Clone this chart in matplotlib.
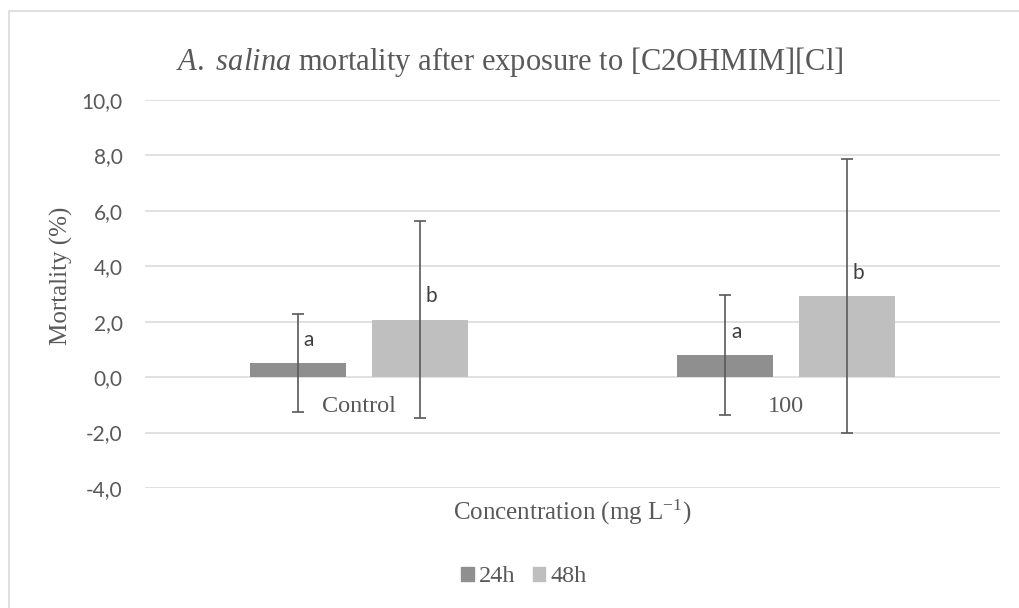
import matplotlib.pyplot as plt
import numpy as np
from matplotlib.patches import Patch, Rectangle

# Dados
categorias = ['Control', '100']
media_24h = [0.50, 0.79]
media_48h = [2.07, 2.92]
dp_24h = [1.77, 2.17]
dp_48h = [3.55, 4.95]
letras_24h = ['a', 'a']
letras_48h = ['b', 'b']
series = ['24h', '48h']
y_ticks = [-4, -2, 0, 2, 4, 6, 8, 10]
y_labels = ['-4,0', '-2,0', '0,0', '2,0', '4,0', '6,0', '8,0', '10,0']

cor_24h = '#8f8f8f'
cor_48h = '#bfbfbf'
cinza = '#595959'

plt.rcParams['mathtext.fontset'] = 'custom'
plt.rcParams['mathtext.rm'] = 'Liberation Serif'
plt.rcParams['mathtext.it'] = 'Liberation Serif:italic'

fig = plt.figure(figsize=(10.2, 6.08), dpi=100)
ax = fig.add_axes([145 / 1020, 1 - 488 / 608, 855 / 1020, 388 / 608])

x = np.arange(len(categorias))
largura = 0.225
desloc = 0.1425

ax.bar(x - desloc, media_24h, largura, color=cor_24h, zorder=2)
ax.bar(x + desloc, media_48h, largura, color=cor_48h, zorder=2)
ax.errorbar(x - desloc, media_24h, yerr=dp_24h, fmt='none', ecolor=cinza,
            elinewidth=1.2, capsize=4.5, capthick=1.2, zorder=3)
ax.errorbar(x + desloc, media_48h, yerr=dp_48h, fmt='none', ecolor=cinza,
            elinewidth=1.2, capsize=4.5, capthick=1.2, zorder=3)

# letras de significância
for xs, ms, ls in [(x - desloc, media_24h, letras_24h), (x + desloc, media_48h, letras_48h)]:
    for xi, mi, li in zip(xs, ms, ls):
        ax.annotate(li, (xi, mi), xytext=(4.0, 17), textcoords='offset points',
                    ha='left', va='center', fontsize=15, family='Lato', color='#404040')

# rótulos das categorias junto ao eixo zero
for xi, cat in zip(x, categorias):
    ax.annotate(cat, (xi, 0), xytext=(0, -21), textcoords='offset points',
                ha='center', va='center', fontsize=17.5, family='Liberation Serif', color=cinza)

ax.set_xlim(-0.5, 1.5)
ax.set_ylim(-4, 10)
ax.set_yticks(y_ticks)
ax.set_yticklabels(y_labels, fontsize=15, family='Lato', color=cinza)
ax.set_xticks([])
ax.tick_params(axis='y', length=0, pad=16)
ax.grid(axis='y', color='#d9d9d9', linewidth=1.1, zorder=0)
ax.set_axisbelow(True)
for s in ax.spines.values():
    s.set_visible(False)

fig.text(510 / 1020, 1 - 62 / 608, r'$\it{A.}$ $\it{salina}$ mortality after exposure to [C2OHMIM][Cl]',
         ha='center', va='center', fontsize=22, family='Liberation Serif', color=cinza)
fig.text(61 / 1020, 1 - 276 / 608, 'Mortality (%)', rotation=90, ha='center', va='center',
         fontsize=18, family='Liberation Serif', color=cinza)
fig.text(572 / 1020, 1 - 512 / 608, r'Concentration (mg L$^{\mathrm{-1}}$)', ha='center', va='center',
         fontsize=18, family='Liberation Serif', color=cinza)

handles = [Patch(color=cor_24h), Patch(color=cor_48h)]
fig.legend(handles, series, loc='center', bbox_to_anchor=(524 / 1020, 1 - 577 / 608), ncol=2,
           frameon=False, handlelength=0.5, handleheight=0.5, handletextpad=0.2, columnspacing=0.75,
           prop={'family': 'Liberation Serif', 'size': 17.5}, labelcolor=cinza)

# moldura do gráfico
fig.patches.append(Rectangle((9 / 1020, -0.1), 1.2, 1.1 - 11 / 608, transform=fig.transFigure,
                             fill=False, edgecolor='#d9d9d9', linewidth=1.2))

fig.savefig('out.png', dpi=100)
